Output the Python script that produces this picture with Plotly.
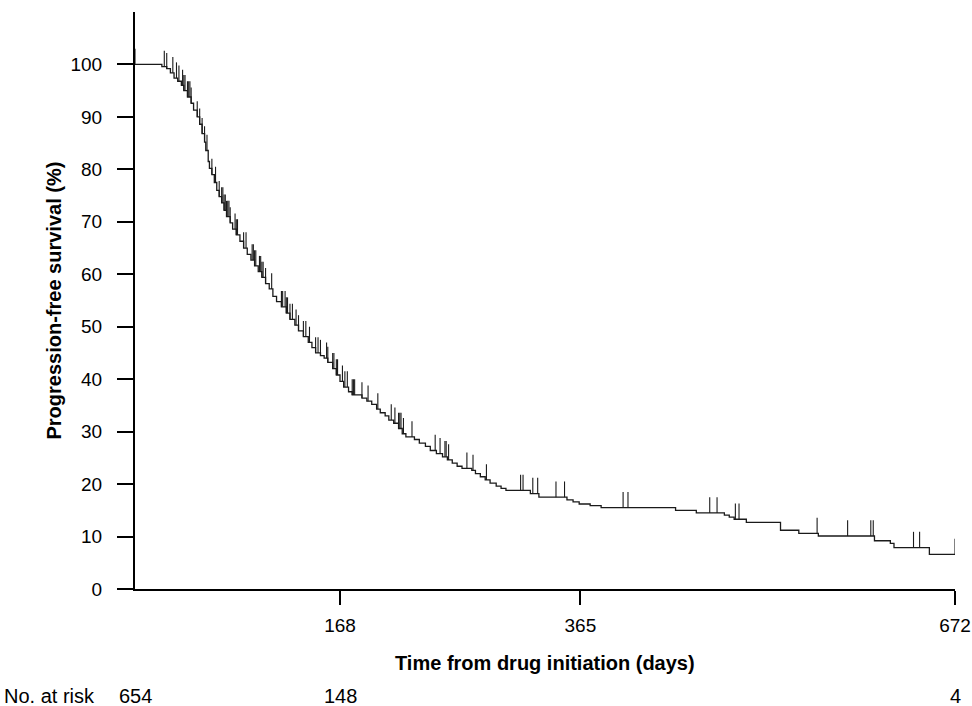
import numpy as np
import plotly.graph_objects as go

# Kaplan-Meier step values (days, % progression-free)
event_days = [0, 20, 22, 26, 29, 32, 35, 38, 40, 43,
              46, 48, 51, 53, 55, 57, 58, 60, 61, 63,
              65, 67, 69, 71, 73, 75, 78, 80, 83, 86,
              89, 92, 95, 98, 101, 104, 107, 110, 113, 116,
              120, 124, 127, 131, 134, 138, 142, 145, 148, 152,
              155, 158, 162, 165, 168, 171, 175, 178, 186, 190,
              194, 198, 201, 205, 208, 212, 216, 219, 222, 229,
              233, 238, 242, 247, 252, 256, 260, 264, 268, 276,
              279, 283, 287, 291, 296, 300, 304, 324, 331, 354,
              359, 364, 373, 382, 443, 460, 483, 487, 491, 501,
              529, 544, 560, 606, 619, 622, 651]
survival = [100, 100, 99.6, 99.2, 98.4, 97.4, 96.8, 96.0, 95.0, 93.8,
            92.6, 91.3, 90.0, 88.6, 86.8, 85.2, 83.6, 81.5, 80.2, 79.0,
            77.5, 76.0, 74.8, 73.6, 72.2, 71.0, 69.8, 68.6, 67.5, 66.3,
            65.0, 63.8, 62.7, 61.6, 60.5, 59.4, 58.2, 57.2, 55.8, 54.8,
            53.8, 52.6, 51.4, 50.3, 49.2, 48.1, 47.0, 46.0, 45.0, 44.5,
            44.0, 43.2, 42.0, 40.8, 39.6, 38.5, 37.6, 37.0, 36.4, 35.8,
            35.2, 34.3, 33.6, 33.0, 32.2, 31.6, 30.6, 29.6, 29.0, 28.5,
            27.8, 27.2, 26.4, 25.8, 25.2, 24.6, 24.0, 23.4, 23.0, 22.6,
            22.0, 21.4, 20.8, 20.2, 19.6, 19.2, 18.8, 18.2, 17.5, 17.0,
            16.6, 16.2, 15.9, 15.5, 15.0, 14.5, 14.1, 13.7, 13.3, 12.7,
            11.2, 10.6, 10.1, 9.2, 8.7, 7.9, 6.6]
end_day = 672

# censored observations (tick marks)
censor_days = [0, 24, 26, 31, 34, 36, 39, 40, 41, 43, 44, 45, 46, 51, 53, 55, 57, 59,
               63, 66, 69, 71, 72, 73, 74, 75, 76, 77, 78, 82, 83, 84, 89, 91, 96, 97,
               98, 99, 102, 103, 104, 105, 107, 112, 120, 121, 123, 124, 125, 127, 129,
               132, 134, 138, 140, 143, 148, 150, 152, 157, 158, 162, 163, 165, 166,
               170, 172, 174, 178, 179, 180, 186, 191, 199, 210, 213, 216, 217, 218,
               220, 227, 246, 250, 254, 255, 257, 272, 277, 288, 316, 318, 326, 330,
               345, 352, 400, 404, 471, 477, 492, 495, 559, 584, 603, 605, 638, 643, 672]

x_ticks = [168, 365, 672]
y_ticks = list(range(0, 101, 10))

risk_days = [0, 168, 672]
risk_counts = ["654", "148", "4"]

FONT = "Arial, Liberation Sans, sans-serif"
LINE = "#1a1a1a"

fig = go.Figure()

# KM curve
fig.add_trace(go.Scatter(
    x=event_days + [end_day], y=survival + [survival[-1]],
    mode="lines", line=dict(color=LINE, width=1.3, shape="hv"),
    hoverinfo="skip", showlegend=False,
))

# censor marks
cx, cy = [], []
ev = np.array(event_days)
for t in censor_days:
    s = survival[int(np.searchsorted(ev, t, side="right")) - 1]
    cx += [t, t, None]
    cy += [s, s + 3, None]
fig.add_trace(go.Scatter(
    x=cx, y=cy, mode="lines", line=dict(color=LINE, width=1.1),
    hoverinfo="skip", showlegend=False,
))

fig.update_xaxes(
    range=[0, end_day], tickvals=x_ticks, ticktext=[str(v) for v in x_ticks],
    showline=True, linewidth=2, linecolor="black", showgrid=False, zeroline=False,
    ticks="outside", ticklen=14, tickwidth=2, tickcolor="black", automargin=False,
    ticklabelstandoff=4, tickfont=dict(size=19, color="black", family=FONT),
)
fig.update_yaxes(
    range=[0, 110], tickvals=y_ticks,
    showline=True, linewidth=2, linecolor="black", showgrid=False, zeroline=False,
    ticks="outside", ticklen=16, tickwidth=2, tickcolor="black", automargin=False,
    ticklabelstandoff=11, tickfont=dict(size=19, color="black", family=FONT),
)

annotations = [
    dict(text="<b>Progression-free survival (%)</b>", xref="paper", yref="paper",
         x=-0.1, y=0.5, textangle=-90, showarrow=False,
         xanchor="center", yanchor="middle",
         font=dict(size=20, color="black", family=FONT)),
    dict(text="<b>Time from drug initiation (days)</b>", xref="paper", yref="paper",
         x=0.5, y=-0.128, showarrow=False, xanchor="center", yanchor="middle",
         font=dict(size=20, color="black", family=FONT)),
    dict(text="No. at risk", xref="paper", yref="paper", x=-0.162, y=-0.1854,
         xanchor="left", yanchor="middle", showarrow=False,
         font=dict(size=20, color="black", family=FONT)),
]
for d, n in zip(risk_days, risk_counts):
    annotations.append(dict(text=n, xref="x", yref="paper", x=d, y=-0.1854,
                            xanchor="center", yanchor="middle", showarrow=False,
                            font=dict(size=20, color="black", family=FONT)))

fig.update_layout(
    width=972, height=706,
    margin=dict(l=135, r=17, t=12, b=117),
    plot_bgcolor="white", paper_bgcolor="white",
    annotations=annotations,
)

# drop the browser's default body margin so the figure sits at the page corner
fig.write_html("out.html", config={"displayModeBar": False},
               post_script="document.body.style.margin='0';")
